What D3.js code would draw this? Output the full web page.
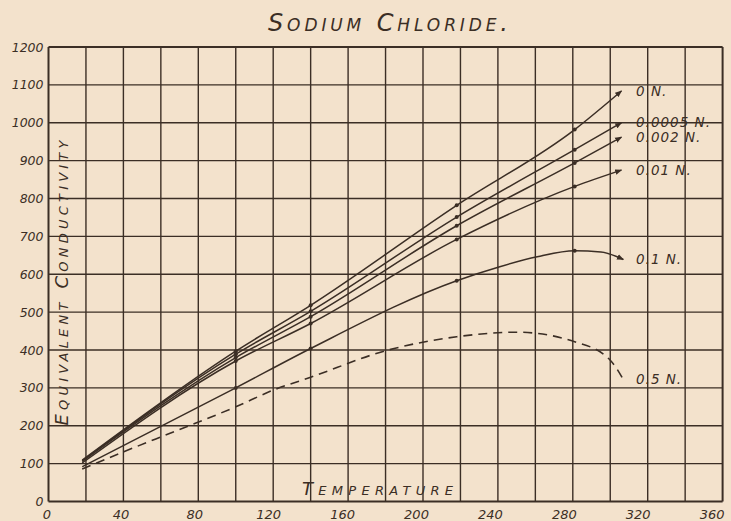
<!DOCTYPE html>
<html>
  <head>
    <meta charset="UTF-8" />
    <title>Sodium Chloride</title>
    <style>
      body { margin: 0; background: #f3e2cc; }
      svg { display: block; }
      text { font-family: "DejaVu Sans", sans-serif; font-style: italic; fill: #3b2e25; }
    </style>
  </head>
  <body>
    <svg></svg>
    <script src="https://d3js.org/d3.v7.min.js"></script>
    <script>
      // values
      const xTicks = [0, 40, 80, 120, 160, 200, 240, 280, 320, 360];
      const yTicks = [0, 100, 200, 300, 400, 500, 600, 700, 800, 900, 1000, 1100, 1200];

      const tempsMain = [18, 100, 140, 218, 281, 306];
      const cond0 = [109, 397, 518, 782, 982, 1084];
      const cond00005 = [107, 389, 502, 751, 929, 1000];
      const cond0002 = [106, 380, 488, 728, 894, 962];
      const cond001 = [102, 371, 470, 692, 832, 875];

      const temps01 = [18, 100, 140, 218, 241, 261, 281, 295, 307];
      const cond01 = [92, 300, 404, 583, 620, 646, 662, 659, 639];

      const temps05 = [18, 40, 70, 100, 120, 140, 180, 218, 250, 281, 300, 307];
      const cond05 = [86, 131, 190, 250, 294, 328, 398, 435, 447, 422, 373, 322];

      const labels = ["0 N.", "0.0005 N.", "0.002 N.", "0.01 N.", "0.1 N.", "0.5 N."];
      const dotTemps = [100, 140, 218, 281];

      const series = [
        { name: labels[0], xs: tempsMain, ys: cond0, dashed: false },
        { name: labels[1], xs: tempsMain, ys: cond00005, dashed: false },
        { name: labels[2], xs: tempsMain, ys: cond0002, dashed: false },
        { name: labels[3], xs: tempsMain, ys: cond001, dashed: false },
        { name: labels[4], xs: temps01, ys: cond01, dashed: false },
        { name: labels[5], xs: temps05, ys: cond05, dashed: true },
      ];

      const W = 731, H = 521;
      const margin = { left: 48.5, top: 47, right: 8.4, bottom: 19.5 };
      const ink = "#3b2e25";

      const svg = d3.select("svg").attr("width", W).attr("height", H);

      const x = d3.scaleLinear().domain([0, 360]).range([margin.left, W - margin.right]);
      const y = d3.scaleLinear().domain([0, 1200]).range([H - margin.bottom, margin.top]);

      // grid, every 20 degrees and every 100 units
      const grid = svg.append("g").attr("stroke", ink);
      grid.selectAll("line.v")
        .data(d3.range(0, 361, 20))
        .enter()
        .append("line")
        .attr("x1", (d) => x(d)).attr("x2", (d) => x(d))
        .attr("y1", y(0)).attr("y2", y(1200))
        .attr("stroke-width", (d) => (d == 0 || d == 360 ? 2 : 1.4));
      grid.selectAll("line.h")
        .data(yTicks)
        .enter()
        .append("line")
        .attr("x1", x(0)).attr("x2", x(360))
        .attr("y1", (d) => y(d)).attr("y2", (d) => y(d))
        .attr("stroke-width", (d) => (d == 0 || d == 1200 ? 2 : 1.4));

      // axes: only the labels, the grid does the rest
      const xAxis = d3.axisBottom(x).tickValues(xTicks).tickSize(0).tickPadding(8)
        .tickFormat(d3.format("d"));
      svg.append("g")
        .attr("transform", "translate(0," + y(0) + ")")
        .call(xAxis)
        .call((g) => g.select(".domain").remove())
        .selectAll("text")
        .attr("dx", (d) => -2 - (d / 360) * 9) // the plate's labels drift left
        .style("font-size", "13px")
        .style("font-family", "DejaVu Sans, sans-serif")
        .style("font-style", "italic")
        .attr("fill", ink);

      const yAxis = d3.axisLeft(y).tickValues(yTicks).tickSize(0).tickPadding(5)
        .tickFormat(d3.format("d"));
      svg.append("g")
        .attr("transform", "translate(" + x(0) + ",0)")
        .call(yAxis)
        .call((g) => g.select(".domain").remove())
        .selectAll("text")
        .style("font-size", "12.5px")
        .style("font-family", "DejaVu Sans, sans-serif")
        .style("font-style", "italic")
        .attr("fill", ink);

      // arrow head for curve ends
      svg.append("defs")
        .append("marker")
        .attr("id", "arrow")
        .attr("viewBox", "0 0 10 10")
        .attr("refX", 9).attr("refY", 5)
        .attr("markerWidth", 7).attr("markerHeight", 7)
        .attr("markerUnits", "userSpaceOnUse")
        .attr("orient", "auto")
        .append("path")
        .attr("d", "M0,1L10,5L0,9z")
        .attr("fill", ink);

      const line = d3.line().curve(d3.curveMonotoneX);

      series.forEach(function (s) {
        const pts = s.xs.map((t, i) => [x(t), y(s.ys[i])]);
        svg.append("path")
          .attr("d", line(pts))
          .attr("fill", "none")
          .attr("stroke", ink)
          .attr("stroke-width", s.dashed ? 1.6 : 1.5)
          .attr("stroke-dasharray", s.dashed ? "9,6" : null)
          .attr("marker-end", s.dashed ? null : "url(#arrow)");

        if (!s.dashed) {
          svg.append("g")
            .selectAll("circle")
            .data(s.xs.map((t, i) => [t, s.ys[i]]).filter((d) => dotTemps.includes(d[0])))
            .enter()
            .append("circle")
            .attr("cx", (d) => x(d[0]))
            .attr("cy", (d) => y(d[1]))
            .attr("r", 2)
            .attr("fill", ink);
        }

        const last = pts[pts.length - 1];
        svg.append("text")
          .attr("x", 636)
          .attr("y", last[1])
          .attr("dy", "0.35em")
          .style("font-size", "13.5px")
          .style("letter-spacing", "1px")
          .text(s.name);
      });

      // titles
      svg.append("text")
        .attr("x", 268).attr("y", 31)
        .attr("textLength", 240)
        .attr("lengthAdjust", "spacing")
        .style("font-size", "24px")
        .style("font-variant", "small-caps")
        .text("Sodium Chloride.");

      svg.append("text")
        .attr("x", 302).attr("y", 495)
        .attr("textLength", 151)
        .attr("lengthAdjust", "spacing")
        .style("font-size", "18px")
        .style("font-variant", "small-caps")
        .text("Temperature");

      svg.append("text")
        .attr("transform", "translate(68,283) rotate(-90)")
        .attr("text-anchor", "middle")
        .attr("textLength", 285)
        .attr("lengthAdjust", "spacing")
        .style("font-size", "18px")
        .style("font-variant", "small-caps")
        .text("Equivalent Conductivity");
    </script>
  </body>
</html>
